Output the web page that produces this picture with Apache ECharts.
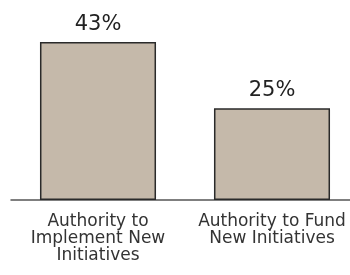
<!DOCTYPE html>
<html><head><meta charset="utf-8">
<script src="https://cdn.jsdelivr.net/npm/echarts@6/dist/echarts.min.js"></script>
<style>html,body{margin:0;padding:0;background:#fff}#c{width:350px;height:275px}</style>
</head><body><div id="c"></div>
<script>
const categories = ['Authority to\nImplement New\nInitiatives', 'Authority to Fund\nNew Initiatives'];
const values = [43, 25];
const valueLabels = ['43%', '25%'];
const chart = echarts.init(document.getElementById('c'), null, {renderer: 'canvas'});
chart.setOption({
  animation: false,
  grid: {left: 11, right: -9, top: 16.3, bottom: 75, containLabel: false, outerBoundsMode: 'none'},
  xAxis: {
    type: 'category', data: categories,
    axisLine: {lineStyle: {color: '#555', width: 1.5}},
    axisTick: {show: false},
    axisLabel: {color: '#333', fontSize: 17, fontFamily: 'DejaVu Sans', lineHeight: 17, margin: 13, interval: 0}
  },
  yAxis: {type: 'value', min: 0, max: 50, show: false},
  series: [{
    type: 'bar', data: values, barWidth: '66.7%',
    itemStyle: {color: '#c5b9aa', borderColor: '#2a2a2a', borderWidth: 1.5},
    label: {show: true, position: 'top', distance: 7, color: '#222', fontSize: 21, fontFamily: 'DejaVu Sans',
      formatter: p => valueLabels[p.dataIndex]}
  }]
});
</script></body></html>
